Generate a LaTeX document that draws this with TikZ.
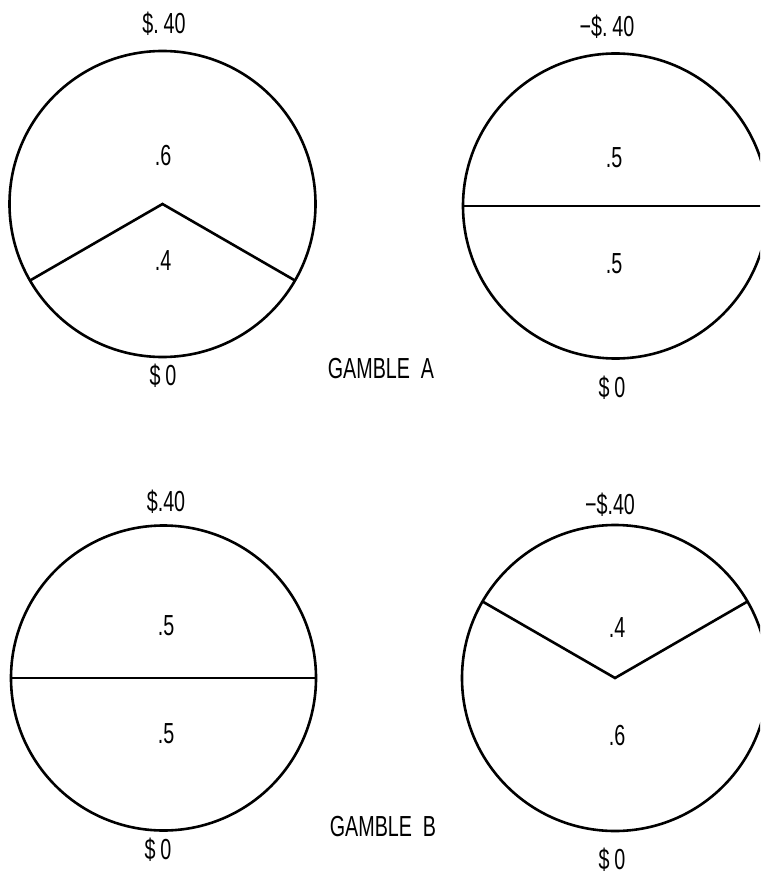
\documentclass[tikz,border=0pt]{standalone}
\usepackage{fontspec}
\setmainfont{Liberation Sans}[FakeStretch=0.68]
\begin{document}
\begin{tikzpicture}[x=1pt,y=-1pt,
  wheel/.style={circle,draw,line width=2.6pt,inner sep=0pt,outer sep=0pt},
  divider/.style={line width=2.6pt,line join=miter},
  lbl/.style={font=\fontsize{29}{29}\selectfont,inner sep=0pt,text height=20.5pt,text depth=0pt}]
\clip (0,0) rectangle (760,874);
\fill[white] (0,0) rectangle (760,874);
% Gamble A
\node[wheel,minimum size=306pt] (w1) at (162.5,204) {};
\node[wheel,minimum size=305pt] (w2) at (615.5,206) {};
\draw[divider] (w1.210) -- (w1.center) -- (w1.330);
\draw[divider] (w2.west) -- (w2.east);
\node[lbl] (a1) at (164,23) {\$.\,40};
\node[lbl] (a2) at (163,155) {.6};
\node[lbl] (a3) at (163,260) {.4};
\node[lbl] (a4) at (163,375) {\$\,0};
\node[lbl] (b1) at (607,26) {−\$.\,40};
\node[lbl] (b2) at (614,157) {.5};
\node[lbl] (b3) at (614,263) {.5};
\node[lbl] (b4) at (612,387) {\$\,0};
\node[lbl] (ga) at (381,368) {GAMBLE\ \ A};
% Gamble B
\node[wheel,minimum size=305pt] (w3) at (163.5,678) {};
\node[wheel,minimum size=306pt] (w4) at (615,678) {};
\draw[divider] (w3.west) -- (w3.east);
\draw[divider] (w4.150) -- (w4.center) -- (w4.30);
\node[lbl] (c1) at (166,501) {\$.40};
\node[lbl] (c2) at (166,625) {.5};
\node[lbl] (c3) at (166,733) {.5};
\node[lbl] (c4) at (158,849) {\$\,0};
\node[lbl] (d1) at (610,504) {−\$.40};
\node[lbl] (d2) at (617,627) {.4};
\node[lbl] (d3) at (617,735) {.6};
\node[lbl] (d4) at (612,859) {\$\,0};
\node[lbl] (gb) at (383,826) {GAMBLE\ \ B};
\end{tikzpicture}
\end{document}
